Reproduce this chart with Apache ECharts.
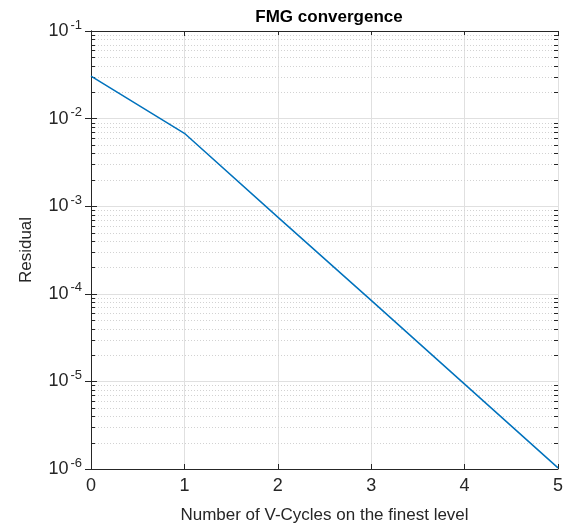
<!DOCTYPE html>
<html>
<head>
<meta charset="utf-8">
<script src="https://cdn.jsdelivr.net/npm/echarts@6/dist/echarts.min.js"></script>
<style>
  html, body { margin: 0; padding: 0; background: #fff; }
  #chart { width: 572px; height: 531px; }
</style>
</head>
<body>
<div id="chart"></div>
<script>
// data
var cycles = [0, 1, 2, 3, 4, 5];
var residual = [0.0306, 0.0068, 7.5e-4, 8.4e-5, 9.3e-6, 1.03e-6];
var xTicks = [0, 1, 2, 3, 4, 5];
var yMin = 1e-6, yMax = 1e-1;
// minor ticks of the log axis (2..9 in each decade)
var minorVals = [];
for (var e = -6; e < -1; e++) {
	for (var m = 2; m <= 9; m++) {
		minorVals.push(m * Math.pow(10, e));
	}
}

var font = 'Liberation Sans, Helvetica, Arial, sans-serif';
var txt = '#262626';
var axisCol = '#262626';

// dotted minor grid + short minor ticks on both sides
function renderMinor(params, api) {
	var v = api.value(1);
	var p0 = api.coord([0, v]);
	var p1 = api.coord([5, v]);
	var y = Math.round(p0[1]) + 0.5;
	return {
		type : 'group',
		children : [ {
			type : 'line',
			shape : { x1 : p0[0] + 1, y1 : y, x2 : p1[0] - 1, y2 : y },
			style : { stroke : '#d2d2d2', lineWidth : 1, lineDash : [1, 2] }
		}, {
			type : 'line',
			shape : { x1 : p0[0], y1 : y, x2 : p0[0] + 4, y2 : y },
			style : { stroke : axisCol, lineWidth : 1 }
		}, {
			type : 'line',
			shape : { x1 : p1[0] - 4, y1 : y, x2 : p1[0], y2 : y },
			style : { stroke : axisCol, lineWidth : 1 }
		} ]
	};
}

var chart = echarts.init(document.getElementById('chart'));
var option = {
	animation : false,
	title : {
		text : 'FMG convergence',
		left : 324,
		top : 4,
		textAlign : 'center',
		textStyle : {
			fontFamily : font,
			fontWeight : 'bold',
			fontSize : 17,
			color : '#000'
		}
	},
	grid : {
		left : 91,
		right : 14,
		top : 31,
		bottom : 62
	},
	xAxis : [ {
		type : 'value',
		min : 0,
		max : 5,
		interval : 1,
		name : 'Number of V-Cycles on the finest level',
		nameLocation : 'middle',
		nameGap : 38,
		nameTextStyle : { fontFamily : font, fontSize : 17, color : txt },
		axisLine : { onZero : false, lineStyle : { color : axisCol, width : 1 } },
		axisTick : { inside : true, length : 5, lineStyle : { color : axisCol } },
		axisLabel : { fontFamily : font, fontSize : 18, color : txt, margin : 8,
			formatter : function(v) { return xTicks.indexOf(v) >= 0 ? String(v) : ''; } },
		splitLine : { show : true, lineStyle : { color : '#e0e0e0', width : 1 } }
	}, {
		type : 'value',
		position : 'top',
		min : 0,
		max : 5,
		interval : 1,
		axisLine : { onZero : false, lineStyle : { color : axisCol, width : 1 } },
		axisTick : { inside : true, length : 5, lineStyle : { color : axisCol } },
		axisLabel : { show : false },
		splitLine : { show : false }
	} ],
	yAxis : [ {
		type : 'log',
		logBase : 10,
		min : yMin,
		max : yMax,
		name : 'Residual',
		nameLocation : 'middle',
		nameGap : 56,
		nameTextStyle : { fontFamily : font, fontSize : 17, color : txt },
		axisLine : { lineStyle : { color : axisCol, width : 1 } },
		axisTick : { inside : true, length : 6, lineStyle : { color : axisCol } },
		axisLabel : {
			margin : 9,
			formatter : function(v) {
				return '{b|10}{s|' + Math.round(Math.log10(v)) + '}';
			},
			rich : {
				b : { fontFamily : font, fontSize : 18, color : txt },
				s : { fontFamily : font, fontSize : 13, color : txt, padding : [0, 0, 12, 2] }
			}
		},
		splitLine : { show : true, lineStyle : { color : '#e0e0e0', width : 1 } }
	}, {
		type : 'log',
		logBase : 10,
		min : yMin,
		max : yMax,
		position : 'right',
		axisLine : { lineStyle : { color : axisCol, width : 1 } },
		axisTick : { inside : true, length : 6, lineStyle : { color : axisCol } },
		axisLabel : { show : false },
		splitLine : { show : false }
	} ],
	series : [ {
		type : 'custom',
		xAxisIndex : 0,
		yAxisIndex : 0,
		silent : true,
		z : 1,
		renderItem : renderMinor,
		data : minorVals.map(function(v) { return [0, v]; })
	}, {
		type : 'line',
		xAxisIndex : 0,
		yAxisIndex : 0,
		data : cycles.map(function(c, i) { return [c, residual[i]]; }),
		showSymbol : false,
		symbol : 'none',
		lineStyle : { color : '#0072BD', width : 1.5 },
		z : 5
	} ]
};
chart.setOption(option);
</script>
</body>
</html>
